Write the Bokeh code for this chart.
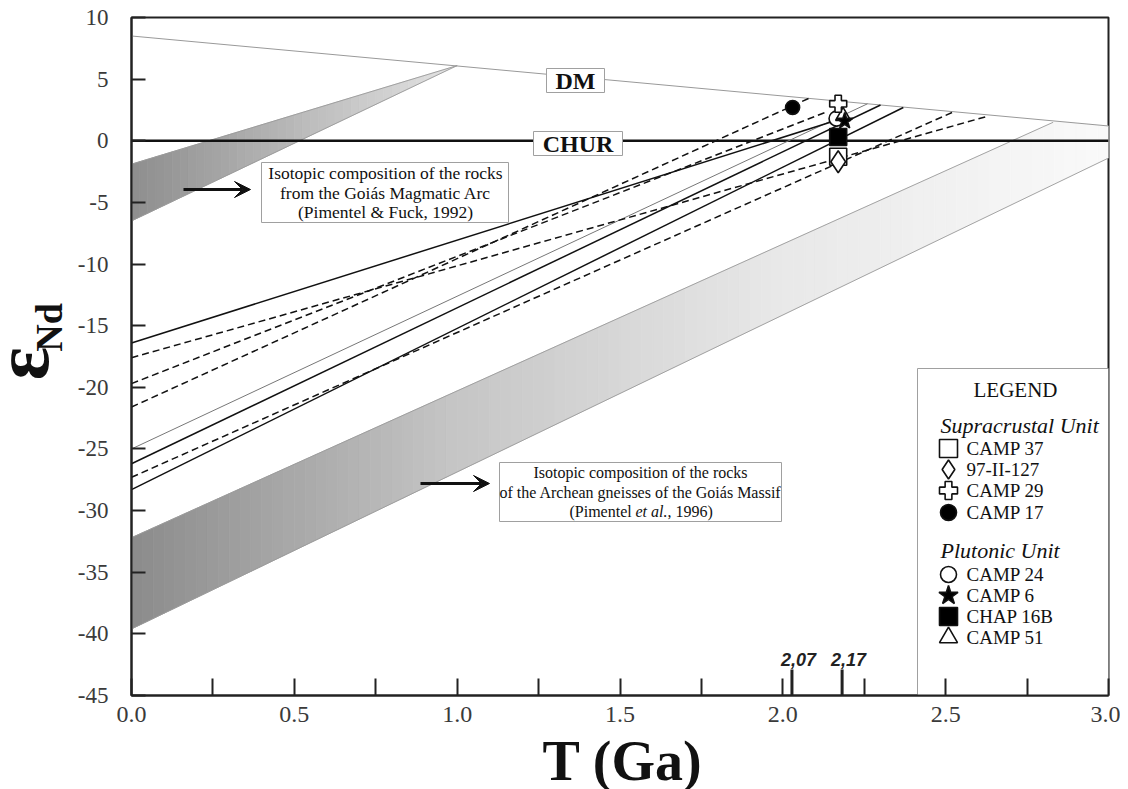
import numpy as np
from bokeh.plotting import figure
from bokeh.layouts import row, column
from bokeh.models import Range1d, FixedTicker, Arrow, VeeHead
from bokeh.embed import file_html
from bokeh.resources import INLINE
from bokeh.core.properties import value

# ---------------- data ----------------
dm_T = [0.0, 3.0]
dm_eps = [8.5, 1.2]
chur_T = [0.0, 3.0]
chur_eps = [0.0, 0.0]

# Goiás Magmatic Arc field
arc_T = [0.0, 1.0]
arc_top_eps = [-1.9, 6.1]
arc_bot_eps = [-6.5, 6.1]

# Archean gneisses of the Goiás Massif field
gneiss_top_T = [0.0, 2.83]
gneiss_top_eps = [-32.2, 1.5]
gneiss_bot_T = [0.0, 3.0]
gneiss_bot_eps = [-39.6, -1.4]

# Nd evolution lines (eps at T=0 -> end point)
solid_start = [-16.4, -26.2, -28.3]
solid_end_T = [2.17, 2.30, 2.37]
solid_end_eps = [1.7, 2.9, 2.7]
thin_start = [-25.0]
thin_end_T = [2.26]
thin_end_eps = [3.0]
dashed_start = [-17.6, -19.7, -21.6, -27.3]
dashed_end_T = [2.63, 2.13, 2.085, 2.52]
dashed_end_eps = [2.0, 2.3, 3.5, 2.3]

# samples
sample_names = ["CAMP 37", "97-II-127", "CAMP 29", "CAMP 17",
                "CAMP 24", "CAMP 6", "CHAP 16B", "CAMP 51"]
sample_T = [2.17, 2.17, 2.17, 2.03, 2.165, 2.19, 2.17, 2.185]
sample_eps = [-1.3, -1.7, 3.0, 2.7, 1.8, 1.6, 0.3, 2.0]
sample_marker = ["square", "diamond", "plus", "circle",
                 "circle", "star", "square", "triangle"]
sample_fill = ["white", "white", "white", "black",
               "white", "black", "black", "white"]
sample_size = [17, 22, 17, 14, 15, 17, 17, 15]
legend_size = [18, 19, 18, 16, 16, 20, 18, 18]
draw_order = [0, 6, 1, 4, 7, 5, 2, 3]

x_ticks = [0.0, 0.5, 1.0, 1.5, 2.0, 2.5, 3.0]
x_minor = [0.25, 0.75, 1.25, 1.75, 2.25, 2.75]
x_labels = ["0.0", "0.5", "1.0", "1.5", "2.0", "2.5", "3.0"]
y_ticks = [-45, -40, -35, -30, -25, -20, -15, -10, -5, 0, 5, 10]
y_labels = ["-45", "-40", "-35", "-30", "-25", "-20", "-15", "-10", "-5", "0", "5", "10"]
age_marks = [2.028, 2.182]
age_labels = ["2,07", "2,17"]

# ---------------- layout helpers (page px -> data) ----------------
X0, X1 = 131, 1108
Y0, Y1 = 17, 695
W = 1120
H_MAIN = 740
H_BOTTOM = 49
LEFT_W = 70
def tx(px):
    return (px - X0) / (X1 - X0) * 3.0
def ey(py):
    return 10 - (py - Y0) / (Y1 - Y0) * 55.0

SERIF = "Liberation Serif"

p = figure(width=W - LEFT_W, height=H_MAIN, x_range=Range1d(0, 3), y_range=Range1d(-45, 10),
           output_backend="svg", toolbar_location=None, title=None,
           min_border_left=X0 - LEFT_W, min_border_right=W - X1, min_border_top=Y0,
           min_border_bottom=H_MAIN - Y1)
p.xgrid.visible = False
p.ygrid.visible = False
p.outline_line_color = "#222"
p.outline_line_width = 2
p.background_fill_color = "white"
p.border_fill_color = "white"

# axes
p.xaxis.ticker = FixedTicker(ticks=x_ticks, minor_ticks=x_minor)
p.xaxis.major_label_overrides = {t: l for t, l in zip(x_ticks, x_labels)}
p.yaxis.ticker = FixedTicker(ticks=y_ticks)
p.yaxis.major_label_overrides = {t: l for t, l in zip(y_ticks, y_labels)}
for ax in (p.xaxis, p.yaxis):
    ax.axis_line_width = 2
    ax.axis_line_color = "#222"
    ax.major_tick_out = 0
    ax.minor_tick_out = 0
    ax.major_tick_line_width = 2
    ax.major_tick_line_color = "#222"
    ax.major_label_text_font = SERIF
    ax.major_label_text_color = "#3a3a3a"
p.xaxis.major_tick_in = 17
p.xaxis.minor_tick_in = 17
p.xaxis.minor_tick_line_width = 2
p.xaxis.minor_tick_line_color = "#222"
p.xaxis.major_label_text_font_size = "24px"
p.xaxis.major_label_standoff = 11
p.yaxis.major_tick_in = 14
p.yaxis.minor_tick_line_color = None
p.yaxis.major_label_text_font_size = "23px"
p.yaxis.major_label_standoff = 23

# ---------------- shaded fields (gradient by slices) ----------------
def line_at(xs, ys, t):
    s = (ys[1] - ys[0]) / (xs[1] - xs[0])
    return ys[0] + s * (t - xs[0])

def slices(t0, t1, n, top_fn, bot_fn, g_T, g_val):
    edges = np.linspace(t0, t1, n + 1)
    xs, ys, cols = [], [], []
    for a, b in zip(edges[:-1], edges[1:]):
        xs.append([a, b, b, a])
        ys.append([bot_fn(a), bot_fn(b), top_fn(b), top_fn(a)])
        g = int(np.interp((a + b) / 2, g_T, g_val))
        cols.append("#%02x%02x%02x" % (g, g, g))
    return xs, ys, cols

g_top = lambda t: min(line_at(gneiss_top_T, gneiss_top_eps, t), line_at(dm_T, dm_eps, t))
g_bot = lambda t: line_at(gneiss_bot_T, gneiss_bot_eps, t)
xs, ys, cols = slices(0, 3.0, 90, g_top, g_bot, [0, 1, 2, 3], [140, 198, 233, 250])
p.patches(xs, ys, fill_color=cols, line_color=cols, line_width=0.8)

a_top = lambda t: line_at(arc_T, arc_top_eps, t)
a_bot = lambda t: line_at(arc_T, arc_bot_eps, t)
xs, ys, cols = slices(0, 1.0, 40, a_top, a_bot, [0, 0.5, 1.0], [142, 185, 228])
p.patches(xs, ys, fill_color=cols, line_color=cols, line_width=0.8)

edge_kw = dict(line_color="#9a9a9a", line_width=0.9)
p.line(arc_T, arc_top_eps, **edge_kw)
p.line(arc_T, arc_bot_eps, **edge_kw)
p.line(gneiss_top_T, gneiss_top_eps, **edge_kw)
p.line(gneiss_bot_T, gneiss_bot_eps, **edge_kw)

# reference curves
p.line(dm_T, dm_eps, line_color="#999999", line_width=1)
p.line(chur_T, chur_eps, line_color="#111111", line_width=2.6)

# evolution lines
p.multi_line([[0, t] for t in thin_end_T], [[s, e] for s, e in zip(thin_start, thin_end_eps)],
             line_color="#777777", line_width=1)
p.multi_line([[0, t] for t in solid_end_T], [[s, e] for s, e in zip(solid_start, solid_end_eps)],
             line_color="#111111", line_width=1.5)
p.multi_line([[0, t] for t in dashed_end_T], [[s, e] for s, e in zip(dashed_start, dashed_end_eps)],
             line_color="#111111", line_width=1.5, line_dash="7 4")

# special age ticks
p.segment(x0=age_marks, y0=[-45] * 2, x1=age_marks, y1=[ey(669)] * 2,
          line_color="#222", line_width=3)
p.text(x=[tx(798), tx(848)], y=[ey(659)] * 2, text=age_labels,
       text_font=value("Liberation Sans"), text_font_style="bold italic",
       text_font_size="18px", text_align="center", text_baseline="middle", text_color="#222")

# ---------------- label boxes ----------------
box_kw = dict(fill_color="white", line_color="#a0a0a0", line_width=1)
p.quad(left=[tx(546), tx(533)], right=[tx(604), tx(622)],
       top=[ey(68), ey(131)], bottom=[ey(92), ey(155)], **box_kw)
p.text(x=[tx(575), tx(577.5)], y=[ey(80), ey(143)], text=["DM", "CHUR"],
       text_font=value(SERIF), text_font_style="bold", text_font_size="24px",
       text_align="center", text_baseline="middle", text_color="#111")

p.quad(left=[tx(261)], right=[tx(508)], top=[ey(162)], bottom=[ey(222)], **box_kw)
p.text(x=[tx(385)] * 3, y=[ey(172), ey(192), ey(211)],
       text=["Isotopic composition of the rocks", "from the Goiás Magmatic Arc",
             "(Pimentel & Fuck, 1992)"],
       text_font=value(SERIF), text_font_size="17.5px", text_align="center",
       text_baseline="middle", text_color="#111")

p.quad(left=[tx(499)], right=[tx(781)], top=[ey(462)], bottom=[ey(521)], **box_kw)
p.text(x=[tx(640)] * 2, y=[ey(472), ey(492)],
       text=["Isotopic composition of the rocks", "of the Archean gneisses of the Goiás Massif"],
       text_font=value(SERIF), text_font_size="16px", text_align="center",
       text_baseline="middle", text_color="#111")
p.text(x=[tx(569), tx(667)], y=[ey(511)] * 2, text=["(Pimentel ", ", 1996)"],
       text_font=value(SERIF), text_font_size="16px", text_align="left",
       text_baseline="middle", text_color="#111")
p.text(x=[tx(635)], y=[ey(511)], text=["et al."],
       text_font=value(SERIF), text_font_style="italic", text_font_size="16px",
       text_align="left", text_baseline="middle", text_color="#111")

# arrows
for xs_, xe_, yy in [(183, 250, 189), (420, 489, 483)]:
    p.add_layout(Arrow(end=VeeHead(size=16, fill_color="#111", line_color="#111", line_width=1),
                       x_start=tx(xs_), y_start=ey(yy), x_end=tx(xe_), y_end=ey(yy),
                       line_width=3, line_color="#111"))

# ---------------- samples ----------------
for i in draw_order:
    p.scatter([sample_T[i]], [sample_eps[i]], marker=sample_marker[i], size=sample_size[i],
              fill_color=sample_fill[i], line_color="#111", line_width=1.6)

# ---------------- legend ----------------
p.quad(left=[tx(917)], right=[3.0], top=[ey(368)], bottom=[-45], **box_kw)
p.text(x=[tx(1015)], y=[ey(389)], text=["LEGEND"], text_font=value(SERIF),
       text_font_size="21px", text_align="center", text_baseline="middle", text_color="#111")
p.text(x=[tx(940), tx(940)], y=[ey(425), ey(550)], text=["Supracrustal Unit", "Plutonic Unit"],
       text_font=value(SERIF), text_font_style="italic", text_font_size="22px",
       text_align="left", text_baseline="middle", text_color="#111")
legend_rows = [448, 469, 490, 512, 574, 595, 616, 637]
for i, r in enumerate(legend_rows):
    p.scatter([tx(948)], [ey(r)], marker=sample_marker[i], size=legend_size[i],
              fill_color=sample_fill[i], line_color="#111", line_width=1.6)
p.text(x=[tx(966)] * 8, y=[ey(r) for r in legend_rows], text=sample_names,
       text_font=value(SERIF), text_font_size="19px", text_align="left",
       text_baseline="middle", text_color="#111")

# ---------------- y-axis title panel (frame aligned with the main plot) ----------------
lab = figure(width=LEFT_W, height=H_MAIN, x_range=Range1d(0, LEFT_W), y_range=Range1d(-45, 10),
             output_backend="svg", toolbar_location=None, x_axis_type=None, y_axis_type=None,
             title=None, min_border=0)
lab.grid.visible = False
lab.outline_line_color = None
lab.text(x=[21], y=[ey(363)], text=["ε"], angle=np.pi / 2, text_font=value(SERIF),
         text_font_style="bold", text_font_size="78px", text_align="center",
         text_baseline="middle", text_color="#111")
lab.text(x=[48], y=[ey(327)], text=["Nd"], angle=np.pi / 2, text_font=value(SERIF),
         text_font_style="bold", text_font_size="38px", text_align="center",
         text_baseline="middle", text_color="#111")

# ---------------- x-axis title panel ----------------
xlab = figure(width=W, height=H_BOTTOM, x_range=Range1d(0, W), y_range=Range1d(0, H_BOTTOM),
              output_backend="svg", toolbar_location=None, x_axis_type=None, y_axis_type=None,
              title=None, min_border=0)
xlab.grid.visible = False
xlab.outline_line_color = None
xlab.text(x=[622], y=[H_BOTTOM - (760 - H_MAIN)], text=["T (Ga)"], text_font=value(SERIF),
          text_font_style="bold", text_font_size="56px", text_align="center",
          text_baseline="middle", text_color="#111")

layout = column(row(lab, p, spacing=0), xlab, spacing=0)
open("out.html", "w").write(file_html(layout, INLINE))
